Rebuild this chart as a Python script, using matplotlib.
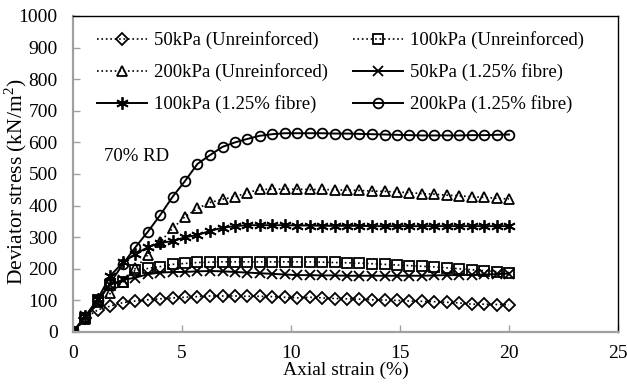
import matplotlib
matplotlib.use("Agg")
import matplotlib.pyplot as plt

plt.rcParams['font.family'] = ['Liberation Serif', 'DejaVu Serif']
plt.rcParams['mathtext.fontset'] = 'custom'
plt.rcParams['mathtext.rm'] = 'Liberation Serif'

# axial strain (%) at each reading
strain = [0, 0.57, 1.14, 1.71, 2.29, 2.86, 3.43, 4.0, 4.57, 5.14, 5.71, 6.29,
          6.86, 7.43, 8.0, 8.57, 9.14, 9.71, 10.29, 10.86, 11.43, 12.0, 12.57,
          13.14, 13.71, 14.29, 14.86, 15.43, 16.0, 16.57, 17.14, 17.71, 18.29,
          18.86, 19.43, 20.0]

# deviator stress (kN/m2)
unr_50 = [0, 45, 70, 82, 93, 98, 102, 105, 108, 110, 112, 114, 114, 114, 113,
          113, 112, 110, 108, 110, 108, 106, 105, 104, 102, 101, 100, 98, 97,
          96, 94, 92, 88, 88, 87, 86]
unr_100 = [0, 45, 100, 150, 159, 196, 201, 207, 214, 217, 220, 221, 222, 222,
           222, 222, 222, 222, 222, 222, 221, 220, 219, 218, 216, 214, 212,
           210, 208, 206, 203, 200, 197, 194, 191, 188]
unr_200 = [0, 40, 95, 122, 159, 201, 244, 285, 328, 365, 391, 410, 420, 428,
           441, 451, 452, 452, 452, 451, 451, 450, 449, 448, 446, 445, 443,
           441, 438, 436, 433, 431, 428, 426, 423, 421]
fib_50 = [0, 50, 100, 150, 165, 172, 183, 188, 190, 190, 192, 193, 192, 190,
          188, 186, 184, 182, 180, 180, 179, 179, 178, 178, 178, 178, 178,
          178, 178, 179, 180, 180, 181, 182, 183, 185]
fib_100 = [0, 50, 105, 178, 220, 247, 268, 283, 287, 300, 307, 320, 330, 335,
           338, 338, 338, 338, 337, 337, 336, 336, 336, 336, 335, 335, 335,
           335, 335, 335, 335, 335, 335, 335, 335, 335]
fib_200 = [0, 48, 100, 155, 215, 268, 317, 370, 428, 478, 532, 560, 586, 600,
           611, 621, 626, 629, 629, 629, 629, 628, 628, 627, 626, 625, 624,
           623, 622, 622, 622, 622, 623, 623, 624, 625]

labels = ['50kPa (Unreinforced)', '100kPa (Unreinforced)',
          '200kPa (Unreinforced)', '50kPa (1.25% fibre)',
          '100kPa (1.25% fibre)', '200kPa (1.25% fibre)']

fig = plt.figure(figsize=(6.27, 3.87), dpi=100)
ax = fig.add_axes([73 / 627, 55 / 387, 545 / 627, 316 / 387])

mk = dict(color='black', markerfacecolor='none', markeredgecolor='black',
          markeredgewidth=1.3, markersize=7)
lines = []
lines += ax.plot(strain, unr_50, linestyle=':', linewidth=1.2, marker='D',
                 label=labels[0], **{**mk, 'markersize': 6})
lines += ax.plot(strain, unr_100, linestyle=':', linewidth=1.2, marker='s',
                 label=labels[1], **mk)
lines += ax.plot(strain, unr_200, linestyle=':', linewidth=1.2, marker='^',
                 label=labels[2], **mk)
lines += ax.plot(strain, fib_50, linestyle='-', linewidth=1.4, marker='x',
                 label=labels[3], **mk)
lines += ax.plot(strain, fib_100, linestyle='-', linewidth=1.4,
                 marker=(6, 2, 0), label=labels[4], **{**mk, 'markersize': 9})
lines += ax.plot(strain, fib_200, linestyle='-', linewidth=1.4, marker='o',
                 label=labels[5], **mk)

ax.set_xlim(0, 25)
ax.set_ylim(0, 1000)
ax.set_xticks([0, 5, 10, 15, 20, 25])
ax.set_yticks(range(0, 1001, 100))
ax.tick_params(direction='in', length=5, width=1, color='#a0a0a0',
               labelsize=14)
ax.tick_params(axis='y', pad=11)
ax.tick_params(axis='x', pad=9)

for side in ['left', 'bottom']:
    ax.spines[side].set_color('#a0a0a0')
    ax.spines[side].set_linewidth(1.6)
for side in ['top', 'right']:
    ax.spines[side].set_color('black')
    ax.spines[side].set_linewidth(1.0)

ax.set_xlabel('Axial strain (%)', fontsize=14, labelpad=0)
ax.set_ylabel('Deviator stress (kN/m$^2$)', fontsize=15.5)
ax.yaxis.set_label_coords(-0.08, 0.475)

ax.text(1.4, 555, '70% RD', fontsize=13.5, va='center', ha='left')

# rows read left to right
order = [0, 2, 4, 1, 3, 5]
ax.legend([lines[i] for i in order], [labels[i] for i in order],
          loc='upper left', bbox_to_anchor=(0.03, 0.975), borderaxespad=0,
          ncol=2, frameon=False, fontsize=13.5, handlelength=2.7,
          handletextpad=0.37, columnspacing=1.3, labelspacing=0.75)

fig.savefig('out.png', dpi=100)
